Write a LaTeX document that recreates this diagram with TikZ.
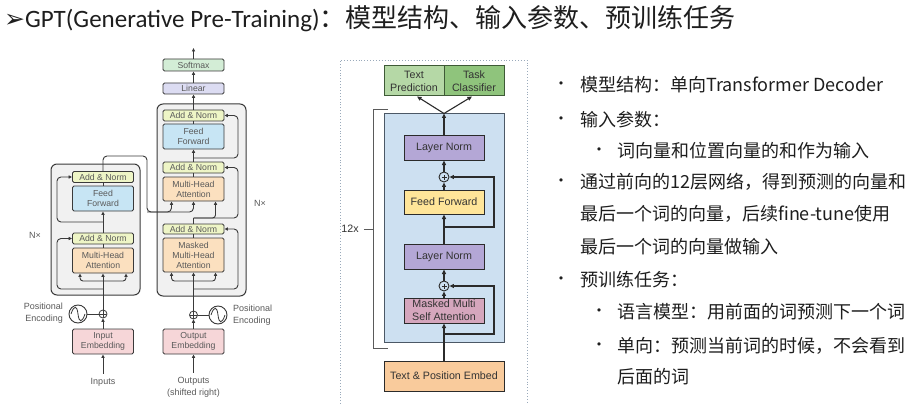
\documentclass[tikz,border=0pt]{standalone}
\usepackage{fontspec}
\setmainfont{Liberation Sans}
\newfontfamily\cjk{Noto Sans CJK SC}
\newfontfamily\titlefont{Carlito}
\newfontfamily\symfont{DejaVu Sans}
\usetikzlibrary{arrows.meta,calc}
\definecolor{tline}{HTML}{3A3A3A}
\definecolor{tgray}{HTML}{5A5A5A}
\definecolor{blockfill}{HTML}{F1F1F1}
\definecolor{anfill}{HTML}{EEF5C6}
\definecolor{fffill}{HTML}{C7E5F4}
\definecolor{mhafill}{HTML}{FBE0BF}
\definecolor{embfill}{HTML}{F6D6D8}
\definecolor{smfill}{HTML}{D3EDD6}
\definecolor{linfill}{HTML}{DCDCF2}
\definecolor{gline}{HTML}{2B2B2B}
\definecolor{gtext}{HTML}{333333}
\definecolor{tpfill}{HTML}{B5D8A6}
\definecolor{tcfill}{HTML}{8FC47C}
\definecolor{gborder}{HTML}{3E5A36}
\definecolor{bluefill}{HTML}{CDE0F1}
\definecolor{bluebord}{HTML}{4C5866}
\definecolor{lnfill}{HTML}{B4A7D6}
\definecolor{gfffill}{HTML}{FFE599}
\definecolor{attfill}{HTML}{D5A6BD}
\definecolor{gembfill}{HTML}{F9CB9C}
\definecolor{frame}{HTML}{9AAABB}
\definecolor{txt}{HTML}{1E1E1E}
\tikzset{
  tbox/.style={draw=tline, line width=0.9pt, rounded corners=1.5pt, minimum width=61pt, inner sep=0pt,
    font=\fontsize{8.7}{10}\selectfont, text=tgray, align=center},
  anbox/.style={tbox, fill=anfill, minimum height=11pt},
  ffbox/.style={tbox, fill=fffill, minimum height=25pt},
  mhabox/.style={tbox, fill=mhafill, minimum height=25pt},
  embbox/.style={tbox, fill=embfill, minimum height=25pt},
  blockbox/.style={draw=tline, line width=1pt, rounded corners=6pt, fill=blockfill, inner sep=0pt},
  tlbl/.style={font=\fontsize{9}{12}\selectfont, text=tgray, inner sep=0pt, align=center},
  tln/.style={draw=tline, line width=0.9pt},
  tarr/.style={tln, -{Triangle[length=3.5pt,width=3.2pt]}},
  plusc/.style={circle, draw=tline, line width=0.8pt, minimum size=8pt, inner sep=0pt,
    path picture={\draw[tline, line width=0.7pt] (path picture bounding box.north) -- (path picture bounding box.south)
      (path picture bounding box.west) -- (path picture bounding box.east);}},
  sinc/.style={circle, draw=tline, line width=0.9pt, minimum size=18pt, inner sep=0pt},
  gbox/.style={draw=gline, line width=1pt, inner sep=0pt, minimum width=80pt, minimum height=25pt,
    font=\fontsize{10.7}{13}\selectfont, text=gtext, align=center},
  gln/.style={draw=gline, line width=1.1pt},
  garr/.style={gln, -{Triangle[length=4.5pt,width=4pt]}},
  gplus/.style={circle, draw=gline, line width=0.9pt, minimum size=10pt, inner sep=0pt,
    path picture={\draw[gline, line width=0.7pt] ([yshift=-2.5pt]path picture bounding box.center) -- ([yshift=2.5pt]path picture bounding box.center)
      ([xshift=-2.5pt]path picture bounding box.center) -- ([xshift=2.5pt]path picture bounding box.center);}},
  rtext/.style={font=\cjk\fontsize{18}{20}\selectfont, text=txt, anchor=west, inner sep=0pt},
  bul/.style={font=\symfont\fontsize{11}{13}\selectfont, text=txt, inner sep=0pt},
}
\begin{document}
\begin{tikzpicture}[x=1pt,y=-1pt]
\useasboundingbox[fill=white] (0,0) rectangle (914,404);

% ---------- title ----------
\node[anchor=west, inner sep=0pt, text=txt] (title) at (4,19)
  {\fontsize{25}{28}\selectfont{\symfont ➢}{\titlefont GPT(Generative Pre-Training)}{\cjk\fontsize{26}{28}\selectfont ：模型结构、输入参数、预训练任务}};

% ---------- Transformer (left) ----------
\node[blockbox, minimum width=89pt, minimum height=131pt] (encblock) at (95.5,229.5) {};
\node[blockbox, minimum width=89pt, minimum height=192pt] (decblock) at (201.5,200) {};

% encoder
\node[anbox] (encAN2) at (103,177) {Add \& Norm};
\node[ffbox] (encFF) at (103,198.5) {Feed\\Forward};
\node[anbox] (encAN1) at (103,238.5) {Add \& Norm};
\node[mhabox] (encMHA) at (103,260.5) {Multi-Head\\Attention};
\node[plusc] (encPlus) at (103,314) {};
\node[sinc] (encSin) at (78,314) {};
\node[embbox] (encEmb) at (103,341.5) {Input\\Embedding};
\node[tlbl] (inputs) at (103,382) {Inputs};
\node[tlbl, anchor=east, align=right] (encPE) at (63,313) {Positional\\Encoding};
\node[tlbl] (encN) at (35,235) {N×};

% decoder
\node[tbox, fill=smfill, minimum height=12pt] (softmax) at (193.5,65) {Softmax};
\node[tbox, fill=linfill, minimum height=11pt] (linear) at (193.5,88.5) {Linear};
\node[anbox] (decAN3) at (193.5,115.5) {Add \& Norm};
\node[ffbox] (decFF) at (193.5,136.5) {Feed\\Forward};
\node[anbox] (decAN2) at (193.5,167.5) {Add \& Norm};
\node[mhabox, minimum height=24pt] (decMHA) at (193.5,189) {Multi-Head\\Attention};
\node[anbox, minimum height=10pt] (decAN1) at (193.5,229) {Add \& Norm};
\node[mhabox, minimum height=34pt] (decMMHA) at (193.5,255) {Masked\\Multi-Head\\Attention};
\node[plusc] (decPlus) at (193.5,315) {};
\node[sinc] (decSin) at (218,315) {};
\node[embbox] (decEmb) at (193.5,341.5) {Output\\Embedding};
\node[tlbl] (outputs) at (193.5,387) {Outputs\\(shifted right)};
\node[tlbl, anchor=west, align=left] (decPE) at (233,315) {Positional\\Encoding};
\node[tlbl] (decN) at (260,203) {N×};
\coordinate (topout) at (193.5,48);

% sine waves
\foreach \c in {encSin,decSin}{
  \draw[tline, line width=0.8pt] ($(\c.center)+(-7,0)$) .. controls ($(\c.center)+(-4,-9)$) and ($(\c.center)+(-1,-9)$) .. (\c.center)
     .. controls ($(\c.center)+(1,9)$) and ($(\c.center)+(4,9)$) .. ($(\c.center)+(7,0)$);
}

% encoder connectors
\draw[tarr] (inputs.north) ++(0,-4) -- (encEmb.south);
\draw[tarr] (encEmb.north) -- (encPlus.south);
\draw[tln] (encSin.east) -- (encPlus.west);
\draw[tarr] (encPlus.north) -- (encMHA.south);
\coordinate (encBr) at (103,281);
\draw[tarr, rounded corners=3pt] (encBr) -| ([xshift=-23pt]encMHA.south);
\draw[tarr, rounded corners=3pt] (encBr) -| ([xshift=23pt]encMHA.south);
\coordinate (encR1) at (103,289);
\draw[tarr, rounded corners=4pt] (encR1) -- ++(-46,0) |- (encAN1.west);
\draw[tln] (encMHA.north) -- (encAN1.south);
\draw[tarr] (encAN1.north) -- (encFF.south);
\coordinate (encR2) at (103,222);
\draw[tarr, rounded corners=4pt] (encR2) -- ++(-46,0) |- (encAN2.west);
\draw[tln] (encFF.north) -- (encAN2.south);
\coordinate (encOut) at (147,212);
\draw[tarr, rounded corners=4pt] (encAN2.north) -- (103,156) -- (147,156) -- (encOut) -| ([xshift=-22pt]decMHA.south);
\draw[tarr, rounded corners=4pt] (encOut) -| (decMHA.south);

% decoder connectors
\draw[tarr] (outputs.north) ++(0,-4) -- (decEmb.south);
\draw[tarr] (decEmb.north) -- (decPlus.south);
\draw[tln] (decSin.west) -- (decPlus.east);
\draw[tarr] (decPlus.north) -- (decMMHA.south);
\coordinate (decBr) at (193.5,281);
\draw[tarr, rounded corners=3pt] (decBr) -| ([xshift=-22pt]decMMHA.south);
\draw[tarr, rounded corners=3pt] (decBr) -| ([xshift=22pt]decMMHA.south);
\coordinate (decR1) at (193.5,289);
\draw[tarr, rounded corners=4pt] (decR1) -- ++(44.5,0) |- (decAN1.east);
\draw[tln] (decMMHA.north) -- (decAN1.south);
\coordinate (decQ) at (193.5,218);
\draw[tln] (decAN1.north) -- (decQ);
\draw[tarr, rounded corners=3pt] (decQ) -| ([xshift=22pt]decMHA.south);
\draw[tarr, rounded corners=4pt] (decQ) -- ++(44.5,0) |- (decAN2.east);
\draw[tln] (decMHA.north) -- (decAN2.south);
\draw[tarr] (decAN2.north) -- (decFF.south);
\coordinate (decR2) at (193.5,158);
\draw[tarr, rounded corners=4pt] (decR2) -- ++(44.5,0) |- (decAN3.east);
\draw[tln] (decFF.north) -- (decAN3.south);
\draw[tarr] (decAN3.north) -- (linear.south);
\draw[tarr] (linear.north) -- (softmax.south);
\draw[tarr] (softmax.north) -- (topout);

% ---------- GPT (middle) ----------
\draw[frame, dotted, line width=0.9pt] (340,404) -- (340,60) -- (527,60) -- (527,404);
\node[gbox, fill=tpfill, draw=gborder, minimum width=60pt, minimum height=30pt] (tp) at (414,81) {Text\\Prediction};
\node[gbox, fill=tcfill, draw=gborder, minimum width=60pt, minimum height=30pt] (tc) at (474,81) {Task\\Classifier};
\node[gbox, fill=bluefill, draw=bluebord, minimum width=120pt, minimum height=228pt] (blue) at (444,228) {};
\node[gbox, fill=lnfill] (ln2) at (444,147.5) {Layer Norm};
\node[gplus] (plus2) at (444,177) {};
\node[gbox, fill=gfffill, minimum height=24pt] (ff) at (444,202) {Feed Forward};
\node[gbox, fill=lnfill] (ln1) at (444,256.5) {Layer Norm};
\node[gplus] (plus1) at (444,286) {};
\node[gbox, fill=attfill] (attn) at (444,310.5) {Masked Multi\\Self Attention};
\node[gbox, fill=gembfill, minimum width=120pt, minimum height=30pt] (emb) at (444,376) {Text \& Position Embed};
\node[font=\fontsize{10.7}{13}\selectfont, text=gtext, inner sep=0pt] (twelve) at (350,229) {12x};

\draw[tgray, line width=0.9pt] (388,109) -- (373,109) -- (373,348) -- (388,348);
\draw[tgray, line width=0.9pt] (twelve.east) ++(5,0) -- (373,229);

\draw[garr] (emb.north) -- (attn.south);
\draw[garr] (attn.north) -- (plus1.south);
\coordinate (gR1) at (444,334);
\draw[garr] (gR1) -- ++(50,0) |- (plus1.east);
\draw[garr] (plus1.north) -- (ln1.south);
\draw[garr] (ln1.north) -- (ff.south);
\draw[garr] (ff.north) -- (plus2.south);
\coordinate (gR2) at (444,227);
\draw[garr] (gR2) -- ++(50,0) |- (plus2.east);
\draw[garr] (plus2.north) -- (ln2.south);
\draw[garr] (ln2.north) -- (blue.north);
\draw[garr] (blue.north) -- ([xshift=3pt]tp.south);
\draw[garr] (blue.north) -- ([xshift=-2pt]tc.south);

% ---------- right text ----------
\node[bul] (b1) at (561,85) {•};
\node[rtext] (t1) at (580,85) {模型结构：单向Transformer Decoder};
\node[bul] (b2) at (561,120) {•};
\node[rtext] (t2) at (580,120) {输入参数：};
\node[bul] (b3) at (599,151) {•};
\node[rtext] (t3) at (617,151) {词向量和位置向量的和作为输入};
\node[bul] (b4) at (561,182) {•};
\node[rtext] (t4) at (580,182) {通过前向的12层网络，得到预测的向量和};
\node[rtext] (t5) at (580,214) {最后一个词的向量，后续fine-tune使用};
\node[rtext] (t6) at (580,247) {最后一个词的向量做输入};
\node[bul] (b7) at (561,280) {•};
\node[rtext] (t7) at (580,280) {预训练任务：};
\node[bul] (b8) at (599,312) {•};
\node[rtext] (t8) at (617,312) {语言模型：用前面的词预测下一个词};
\node[bul] (b9) at (599,346) {•};
\node[rtext] (t9) at (617,346) {单向：预测当前词的时候，不会看到};
\node[rtext] (t10) at (617,377) {后面的词};
\end{tikzpicture}
\end{document}
